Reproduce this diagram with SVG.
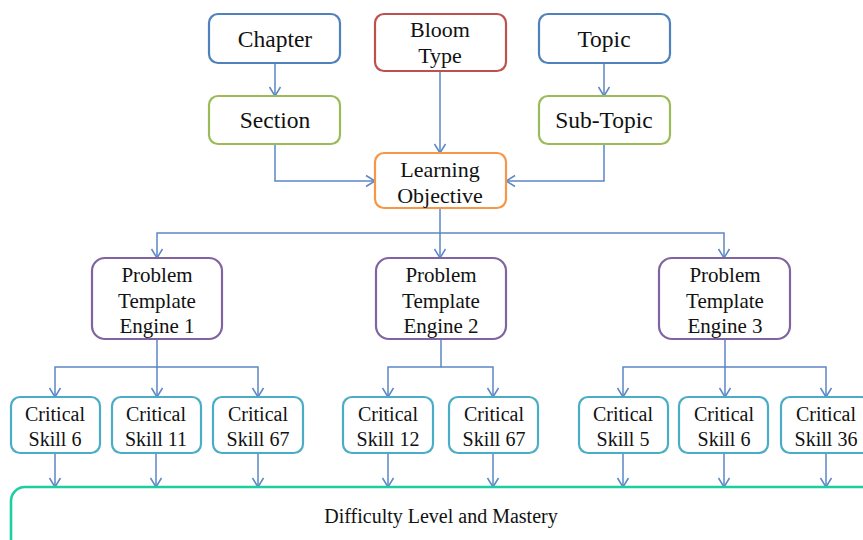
<svg xmlns="http://www.w3.org/2000/svg" width="863" height="540" viewBox="0 0 863 540">
<style>
  text { font-family: "Liberation Serif", "Tinos", "DejaVu Serif", "Noto Serif", serif; fill: #111; text-anchor: middle; }
  .box { fill: #fff; stroke-width: 2.2; }
  .blue { stroke: #4F81BD; }
  .red { stroke: #C0504D; }
  .green { stroke: #9BBB59; }
  .orange { stroke: #F79646; }
  .purple { stroke: #8064A2; }
  .cyan { stroke: #4BACC6; }
  .teal { stroke: #1DCF9F; stroke-width: 2.6; }
  .t23 { font-size: 23.5px; }
  .t22 { font-size: 22px; }
  .t20 { font-size: 21px; }
  .t19 { font-size: 20px; }
  .t18 { font-size: 20px; }
  .conn { fill: none; stroke: #5B87C6; stroke-width: 1.5; }
</style>
<defs>
  <marker id="arr" markerUnits="userSpaceOnUse" markerWidth="14" markerHeight="14" viewBox="0 0 14 14" refX="12" refY="7" orient="auto">
    <path d="M3,1.5 L12,7 L3,12.5" fill="none" stroke="#5B87C6" stroke-width="1.5"/>
  </marker>
</defs>

<g id="connectors" class="conn">
  <path d="M275,63 V96" marker-end="url(#arr)"/>
  <path d="M604,63 V96" marker-end="url(#arr)"/>
  <path d="M440,71 V153" marker-end="url(#arr)"/>
  <path d="M275,144 V181 H375" marker-end="url(#arr)"/>
  <path d="M604,144 V181 H506" marker-end="url(#arr)"/>
  <path d="M440,208 V233 H157 V258" marker-end="url(#arr)"/>
  <path d="M440,233 V258" marker-end="url(#arr)"/>
  <path d="M440,233 H724 V258" marker-end="url(#arr)"/>
  <path d="M157,339 V367 H55 V397" marker-end="url(#arr)"/>
  <path d="M157,367 V397" marker-end="url(#arr)"/>
  <path d="M157,367 H258 V397" marker-end="url(#arr)"/>
  <path d="M441,339 V367 H388 V397" marker-end="url(#arr)"/>
  <path d="M441,367 H493 V397" marker-end="url(#arr)"/>
  <path d="M725,339 V367 H623 V397" marker-end="url(#arr)"/>
  <path d="M725,367 V397" marker-end="url(#arr)"/>
  <path d="M725,367 H826 V397" marker-end="url(#arr)"/>
  <path d="M55,453 V487" marker-end="url(#arr)"/>
  <path d="M156,453 V487" marker-end="url(#arr)"/>
  <path d="M258,453 V487" marker-end="url(#arr)"/>
  <path d="M388,453 V487" marker-end="url(#arr)"/>
  <path d="M493,453 V487" marker-end="url(#arr)"/>
  <path d="M623,453 V487" marker-end="url(#arr)"/>
  <path d="M724,453 V487" marker-end="url(#arr)"/>
  <path d="M826,453 V487" marker-end="url(#arr)"/>
</g>

<g id="chapter">
  <rect class="box blue" x="209" y="14" width="131" height="49" rx="9"/>
  <text class="t23" x="275" y="47">Chapter</text>
</g>
<g id="bloom">
  <rect class="box red" x="375" y="14" width="131" height="57" rx="9"/>
  <text class="t22" x="440" y="37">Bloom</text>
  <text class="t22" x="440" y="63">Type</text>
</g>
<g id="topic">
  <rect class="box blue" x="539" y="14" width="131" height="49" rx="9"/>
  <text class="t23" x="604" y="47">Topic</text>
</g>
<g id="section">
  <rect class="box green" x="209" y="96" width="131" height="48" rx="9"/>
  <text class="t23" x="275" y="128">Section</text>
</g>
<g id="subtopic">
  <rect class="box green" x="539" y="96" width="131" height="48" rx="9"/>
  <text class="t23" x="604" y="128">Sub-Topic</text>
</g>
<g id="learning-objective">
  <rect class="box orange" x="375" y="153" width="131" height="55" rx="9"/>
  <text class="t22" x="440" y="177">Learning</text>
  <text class="t22" x="440" y="203">Objective</text>
</g>

<g id="pte1">
  <rect class="box purple" x="92" y="258" width="130" height="81" rx="13"/>
  <text class="t20" x="157" y="282">Problem</text>
  <text class="t20" x="157" y="308">Template</text>
  <text class="t20" x="157" y="333">Engine  1</text>
</g>
<g id="pte2">
  <rect class="box purple" x="376" y="258" width="130" height="81" rx="13"/>
  <text class="t20" x="441" y="282">Problem</text>
  <text class="t20" x="441" y="308">Template</text>
  <text class="t20" x="441" y="333">Engine  2</text>
</g>
<g id="pte3">
  <rect class="box purple" x="659" y="258" width="131" height="81" rx="13"/>
  <text class="t20" x="725" y="282">Problem</text>
  <text class="t20" x="725" y="308">Template</text>
  <text class="t20" x="725" y="333">Engine  3</text>
</g>

<g id="cs6a">
  <rect class="box cyan" x="11" y="397" width="89" height="56" rx="9"/>
  <text class="t19" x="55" y="421">Critical</text>
  <text class="t19" x="55" y="446">Skill 6</text>
</g>
<g id="cs11">
  <rect class="box cyan" x="112" y="397" width="89" height="56" rx="9"/>
  <text class="t19" x="156" y="421">Critical</text>
  <text class="t19" x="156" y="446">Skill 11</text>
</g>
<g id="cs67a">
  <rect class="box cyan" x="213" y="397" width="90" height="56" rx="9"/>
  <text class="t19" x="258" y="421">Critical</text>
  <text class="t19" x="258" y="446">Skill 67</text>
</g>
<g id="cs12">
  <rect class="box cyan" x="343" y="397" width="90" height="56" rx="9"/>
  <text class="t19" x="388" y="421">Critical</text>
  <text class="t19" x="388" y="446">Skill 12</text>
</g>
<g id="cs67b">
  <rect class="box cyan" x="449" y="397" width="89" height="56" rx="9"/>
  <text class="t19" x="494" y="421">Critical</text>
  <text class="t19" x="494" y="446">Skill 67</text>
</g>
<g id="cs5">
  <rect class="box cyan" x="579" y="397" width="89" height="56" rx="9"/>
  <text class="t19" x="623" y="421">Critical</text>
  <text class="t19" x="623" y="446">Skill 5</text>
</g>
<g id="cs6b">
  <rect class="box cyan" x="679" y="397" width="89" height="56" rx="9"/>
  <text class="t19" x="724" y="421">Critical</text>
  <text class="t19" x="724" y="446">Skill 6</text>
</g>
<g id="cs36">
  <rect class="box cyan" x="781" y="397" width="90" height="56" rx="9"/>
  <text class="t19" x="826" y="421">Critical</text>
  <text class="t19" x="826" y="446">Skill 36</text>
</g>

<g id="difficulty">
  <rect class="box teal" x="11" y="487" width="870" height="80" rx="14"/>
  <text class="t18" x="441" y="523">Difficulty Level and Mastery</text>
</g>
</svg>
